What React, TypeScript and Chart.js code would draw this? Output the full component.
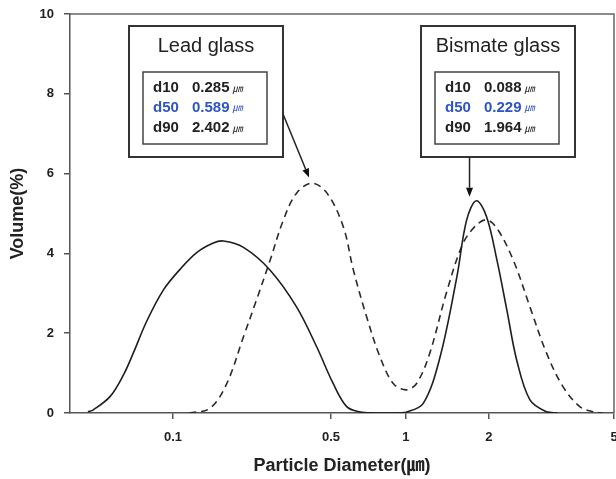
import React, { useEffect, useRef } from 'react';
import { Chart, registerables, LogarithmicScale } from 'chart.js';

// ---------- data ----------
const xTickValues = [0.1, 0.5, 1, 2, 5];
const yTickStep = 2;

// Bismate glass (solid)
const bismateX = [0.042, 0.0444, 0.0526, 0.0603, 0.0667, 0.0765, 0.0906, 0.1074, 0.1273, 0.1508, 0.167, 0.205, 0.269, 0.352, 0.432, 0.51, 0.578, 0.65, 0.75, 0.9, 1.0, 1.155, 1.33, 1.53, 1.66, 1.8, 1.96, 2.12, 2.28, 2.45, 2.7, 3.05, 3.3];
const bismateY = [0.03, 0.08, 0.41, 0.95, 1.5, 2.3, 3.08, 3.6, 4.02, 4.26, 4.31, 4.15, 3.58, 2.66, 1.66, 0.74, 0.16, 0.03, 0.0, 0.0, 0.02, 0.24, 1.41, 3.42, 4.84, 5.32, 4.92, 3.83, 2.58, 1.33, 0.33, 0.03, 0.0];

// Lead glass (dashed)
const leadX = [0.118, 0.146, 0.173, 0.205, 0.234, 0.269, 0.308, 0.352, 0.412, 0.48, 0.56, 0.615, 0.695, 0.786, 0.889, 1.0, 1.093, 1.22, 1.4, 1.61, 1.8, 1.96, 2.12, 2.39, 2.7, 3.05, 3.44, 3.89, 4.29, 4.6];
const leadY = [0.0, 0.12, 0.74, 1.91, 2.83, 3.83, 4.84, 5.51, 5.76, 5.51, 4.67, 3.58, 2.41, 1.41, 0.74, 0.58, 0.74, 1.5, 3.0, 4.25, 4.71, 4.84, 4.63, 3.83, 2.66, 1.5, 0.66, 0.16, 0.03, 0.0];

const statNames = ['d10', 'd50', 'd90'];
const leadStats = ['0.285', '0.589', '2.402'];
const bismateStats = ['0.088', '0.229', '1.964'];
const unitText = '㎛';

// ---------- warped log axis (value -> fraction of axis width) ----------
const warpValues = [0.035, 0.1, 0.5, 1, 2, 5];
const warpFractions = [0, 0.1893, 0.4798, 0.6176, 0.7702, 1];
const warpLogs = warpValues.map((v) => Math.log10(v));

function fracForValue(v: number) {
  const lv = Math.log10(v);
  let i = 0;
  while (i < warpLogs.length - 2 && lv > warpLogs[i + 1]) i++;
  return warpFractions[i] + ((lv - warpLogs[i]) / (warpLogs[i + 1] - warpLogs[i])) * (warpFractions[i + 1] - warpFractions[i]);
}
function valueForFrac(f: number) {
  let i = 0;
  while (i < warpFractions.length - 2 && f > warpFractions[i + 1]) i++;
  const lv = warpLogs[i] + ((f - warpFractions[i]) / (warpFractions[i + 1] - warpFractions[i])) * (warpLogs[i + 1] - warpLogs[i]);
  return Math.pow(10, lv);
}

class WarpedLogScale extends (LogarithmicScale as any) {
  static id = 'warpedLog';
  static defaults = (LogarithmicScale as any).defaults;
  getPixelForValue(value: number) {
    if (value == null || !(value > 0)) return NaN;
    return this.left + fracForValue(value) * this.width;
  }
  getValueForPixel(pixel: number) {
    return valueForFrac((pixel - this.left) / this.width);
  }
}

Chart.register(...registerables, WarpedLogScale as any);

const FONT = '"Liberation Sans", Arial, Helvetica, sans-serif';

function drawArrow(ctx: CanvasRenderingContext2D, x0: number, y0: number, x1: number, y1: number) {
  const ang = Math.atan2(y1 - y0, x1 - x0);
  const hl = 9, hw = 3.5;
  const bx = x1 - hl * Math.cos(ang), by = y1 - hl * Math.sin(ang);
  ctx.strokeStyle = '#222';
  ctx.lineWidth = 1.5;
  ctx.beginPath();
  ctx.moveTo(x0, y0);
  ctx.lineTo(bx, by);
  ctx.stroke();
  ctx.fillStyle = '#111';
  ctx.beginPath();
  ctx.moveTo(x1, y1);
  ctx.lineTo(bx + hw * Math.sin(ang), by - hw * Math.cos(ang));
  ctx.lineTo(bx - hw * Math.sin(ang), by + hw * Math.cos(ang));
  ctx.closePath();
  ctx.fill();
}

function drawInfoBox(ctx: CanvasRenderingContext2D, left: number, top: number, title: string, stats: string[]) {
  const w = 154, h = 131;
  ctx.fillStyle = '#fff';
  ctx.fillRect(left, top, w, h);
  ctx.strokeStyle = '#333';
  ctx.lineWidth = 2;
  ctx.strokeRect(left, top, w, h);
  ctx.fillStyle = '#222';
  ctx.font = `20px ${FONT}`;
  ctx.textAlign = 'center';
  ctx.textBaseline = 'middle';
  ctx.fillText(title, left + w / 2, top + 20);
  const il = left + 14, it = top + 46, iw = 124, ih = 72;
  ctx.strokeStyle = '#444';
  ctx.lineWidth = 1.5;
  ctx.strokeRect(il, it, iw, ih);
  ctx.textAlign = 'left';
  const rows = [16, 35.5, 56];
  statNames.forEach((name, i) => {
    const color = i === 1 ? '#2f55c4' : '#222';
    ctx.fillStyle = color;
    ctx.font = `bold 15px ${FONT}`;
    const y = it + rows[i];
    ctx.fillText(name, il + 10, y);
    ctx.fillText(stats[i], il + 49, y);
    const vw = ctx.measureText(stats[i]).width;
    ctx.font = `italic 10px ${FONT}, "Noto Sans CJK JP"`;
    ctx.fillText(unitText, il + 49 + vw + 3, y + 1);
  });
}

const annotationPlugin = {
  id: 'annotations',
  afterDraw(chart: any) {
    const { ctx, chartArea: ca, scales } = chart;
    const xs = scales.x, ys = scales.y;
    ctx.save();
    // top and right frame
    ctx.strokeStyle = '#666';
    ctx.lineWidth = 1.5;
    ctx.beginPath();
    ctx.moveTo(ca.left, ca.top);
    ctx.lineTo(ca.right, ca.top);
    ctx.lineTo(ca.right, ca.bottom);
    ctx.stroke();

    const leadLeft = ca.left + 59;
    const bisLeft = ca.left + 351;
    const boxTop = ca.top + 12;
    drawInfoBox(ctx, leadLeft, boxTop, 'Lead glass', leadStats);
    drawInfoBox(ctx, bisLeft, boxTop, 'Bismate glass', bismateStats);

    // arrows
    const leadTipX = xs.getPixelForValue(0.4);
    const leadTipY = ys.getPixelForValue(5.9);
    drawArrow(ctx, leadLeft + 154, boxTop + 88, leadTipX, leadTipY);
    const bisTipX = xs.getPixelForValue(1.7);
    const bisTipY = ys.getPixelForValue(5.42);
    drawArrow(ctx, bisTipX, boxTop + 131, bisTipX, bisTipY);
    ctx.restore();
  },
};

export default function App() {
  const canvasRef = useRef<HTMLCanvasElement | null>(null);

  useEffect(() => {
    if (!canvasRef.current) return;
    const tickFont = { family: FONT, size: 13, weight: 'bold' as const };
    const titleFont = { family: `${FONT}, "Noto Sans CJK JP"`, size: 18, weight: 'bold' as const };
    const chart = new Chart(canvasRef.current, {
      type: 'line',
      data: {
        datasets: [
          {
            label: 'Bismate glass',
            data: bismateX.map((x, i) => ({ x, y: bismateY[i] })),
            borderColor: '#1e1e1e',
            borderWidth: 1.6,
            pointRadius: 0,
            tension: 0.35,
            fill: false,
          },
          {
            label: 'Lead glass',
            data: leadX.map((x, i) => ({ x, y: leadY[i] })),
            borderColor: '#2a2a2a',
            borderWidth: 1.6,
            borderDash: [7, 5],
            pointRadius: 0,
            tension: 0.35,
            fill: false,
          },
        ],
      },
      options: {
        animation: false,
        responsive: false,
        maintainAspectRatio: false,
        events: [],
        layout: { padding: { top: 14, right: 2, left: 0, bottom: 0 } },
        plugins: { legend: { display: false }, tooltip: { enabled: false } },
        scales: {
          x: {
            type: 'warpedLog' as any,
            min: warpValues[0],
            max: warpValues[warpValues.length - 1],
            afterBuildTicks: (s: any) => {
              s.ticks = xTickValues.map((v) => ({ value: v }));
            },
            afterFit: (s: any) => {
              s.height = 66;
              s.paddingLeft = 0;
              s.paddingRight = 0;
            },
            ticks: {
              autoSkip: false,
              maxRotation: 0,
              minRotation: 0,
              padding: 11,
              color: '#222',
              font: tickFont,
              callback: (v: any) => String(v),
            },
            grid: { drawOnChartArea: false, drawTicks: true, tickLength: 6, color: '#555', lineWidth: 1.5 },
            border: { display: true, color: '#555', width: 1.5 },
            title: { display: true, text: 'Particle Diameter(㎛)', color: '#222', font: titleFont, padding: { top: 0, bottom: 2 } },
          } as any,
          y: {
            type: 'linear',
            min: 0,
            max: 10,
            afterFit: (s: any) => {
              s.width = 70;
              s.paddingTop = 0;
              s.paddingBottom = 0;
            },
            ticks: { stepSize: yTickStep, padding: 10, color: '#222', font: tickFont },
            grid: { drawOnChartArea: false, drawTicks: true, tickLength: 6, color: '#555', lineWidth: 1.5 },
            border: { display: true, color: '#555', width: 1.5 },
            title: { display: true, text: 'Volume(%)', color: '#222', font: titleFont, padding: { top: 7, bottom: 0 } },
          } as any,
        },
      },
      plugins: [annotationPlugin],
    } as any);
    return () => chart.destroy();
  }, []);

  return (
    <div style={{ position: 'absolute', left: 0, top: 0, width: 616, height: 479, background: '#fff' }}>
      <canvas ref={canvasRef} width={616} height={479} style={{ display: 'block', width: 616, height: 479 }} />
    </div>
  );
}
